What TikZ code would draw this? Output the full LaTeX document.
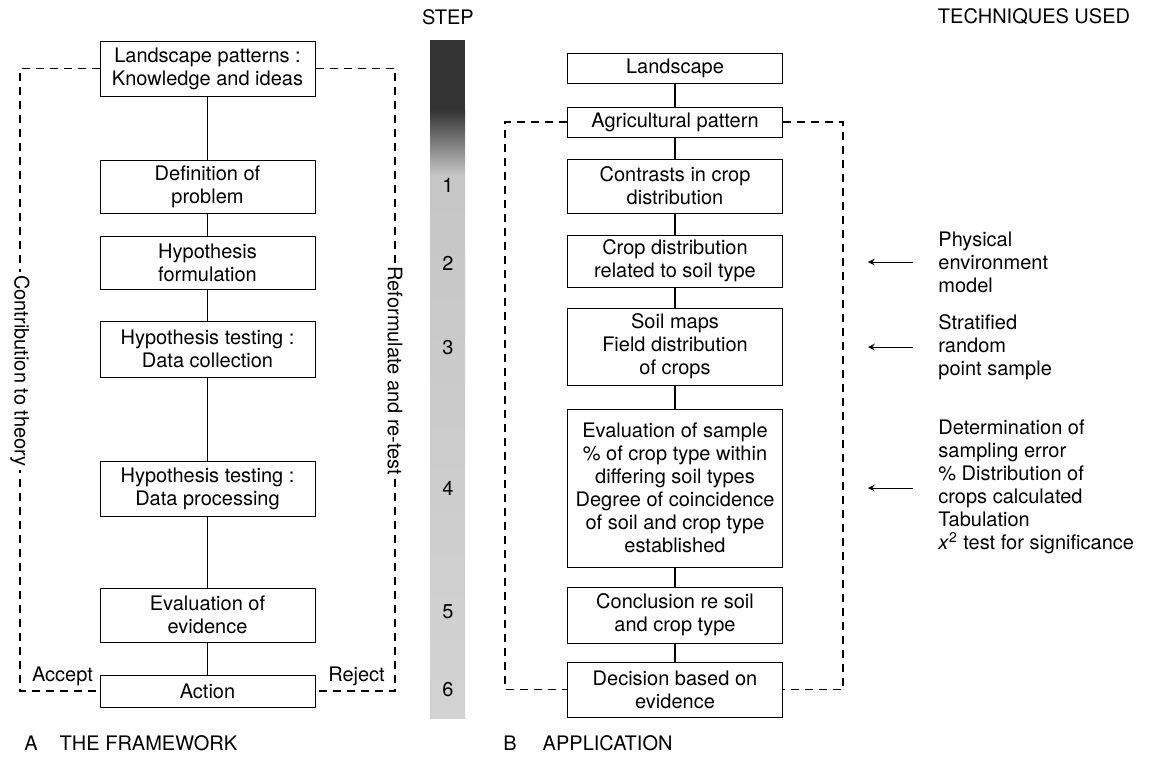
\documentclass[tikz,border=0pt]{standalone}
\usepackage{fontspec}
\setmainfont{TeX Gyre Heros}
\usetikzlibrary{arrows}

\tikzset{
  stage/.style={draw, line width=0.5pt, minimum width=107.5pt, align=center,
    inner sep=1pt, font=\fontsize{10pt}{11.5pt}\selectfont},
  link/.style={line width=0.7pt},
  loopline/.style={line width=0.6pt, dash pattern=on 4pt off 3pt},
  sidenote/.style={fill=white, inner sep=1.5pt, font=\fontsize{10pt}{11.5pt}\selectfont},
  technote/.style={anchor=west, align=left, inner sep=0pt, font=\fontsize{10pt}{11.5pt}\selectfont},
  pointer/.style={->, line width=0.5pt},
  steptag/.style={inner sep=1pt, font=\fontsize{10pt}{11.5pt}\selectfont},
}

\begin{document}
\begin{tikzpicture}[>=stealth, x=0.5pt, y=-0.5pt]
    \useasboundingbox (0,0) rectangle (1151,756);

    % Framework (Left)
    \node[stage, minimum height=27.5pt] (lpat) at (207.5,68.5) {Landscape patterns :\\Knowledge and ideas};
    \node[stage, minimum height=26.5pt] (defn) at (207.5,186.5) {Definition of\\problem};
    \node[stage, minimum height=26.5pt] (hform) at (207.5,262.5) {Hypothesis\\formulation};
    \node[stage, minimum height=28pt] (hcoll) at (207.5,349) {Hypothesis testing :\\Data collection};
    \node[stage, minimum height=27.5pt] (hproc) at (207.5,488.5) {Hypothesis testing :\\Data processing};
    \node[stage, minimum height=27pt] (evid) at (207.5,615) {Evaluation of\\evidence};
    \node[stage, minimum height=16pt] (action) at (207.5,691) {Action};
    \foreach \a/\b in {lpat/defn, defn/hform, hform/hcoll, hcoll/hproc, hproc/evid, evid/action}
        \draw[link] (\a) -- (\b);

    \coordinate (lt) at (20,68.5);
    \coordinate (lb) at (20,691);
    \coordinate (rt) at (395,68.5);
    \coordinate (rb) at (395,691);
    \draw[loopline] (lpat.west) -- (lt) -- (lb) -- (action.west);
    \draw[loopline] (lpat.east) -- (rt) -- (rb) -- (action.east);
    \node[sidenote, rotate=-90] (contrib) at (20,371) {Contribution to theory};
    \node[sidenote, rotate=-90] (reform) at (395,371) {Reformulate and re-test};
    \node[steptag] (accept) at (62.5,676) {Accept};
    \node[steptag] (reject) at (356.5,676) {Reject};
    \node[steptag, anchor=west] (capa) at (22,743) {A\hspace{1.1em}THE FRAMEWORK};

    % Step bar (Centre)
    \fill[black!80] (430,40) rectangle (465,110);
    \shade[top color=black!80, bottom color=gray!45] (430,110) rectangle (465,175);
    \shade[top color=gray!45, bottom color=gray!35] (430,175) rectangle (465,718);
    \node[steptag] (stephead) at (448,17) {STEP};
    \foreach \n/\y in {1/185, 2/263, 3/348, 4/488, 5/612, 6/690}
        \node[steptag] (s\n) at (448,\y) {\n};

    % Application (Right)
    \node[stage, minimum height=15pt] (land) at (675,68) {Landscape};
    \node[stage, minimum height=15pt] (agri) at (675,122) {Agricultural pattern};
    \node[stage, minimum height=27pt] (contr) at (675,186) {Contrasts in crop\\distribution};
    \node[stage, minimum height=26pt] (cdist) at (675,261) {Crop distribution\\related to soil type};
    \node[stage, minimum height=38.5pt] (soil) at (675,346.5) {Soil maps\\Field distribution\\of crops};
    \node[stage, minimum height=79pt] (evsam) at (675,488) {Evaluation of sample\\\% of crop type within\\differing soil types\\Degree of coincidence\\of soil and crop type\\established};
    \node[stage, minimum height=28pt] (concl) at (675,615) {Conclusion re soil\\and crop type};
    \node[stage, minimum height=27.5pt] (decis) at (675,689.5) {Decision based on\\evidence};
    \foreach \a/\b in {land/agri, agri/contr, contr/cdist, cdist/soil, soil/evsam, evsam/concl, concl/decis}
        \draw[link] (\a) -- (\b);

    \coordinate (blt) at (505,122);
    \coordinate (blb) at (505,689.5);
    \coordinate (brt) at (843,122);
    \coordinate (brb) at (843,689.5);
    \draw[loopline] (agri.west) -- (blt) -- (blb) -- (decis.west);
    \draw[loopline] (agri.east) -- (brt) -- (brb) -- (decis.east);
    \node[steptag, anchor=west] (capb) at (501,743) {B\hspace{1.3em}APPLICATION};

    % Techniques
    \node[steptag] (techhead) at (1034,17) {TECHNIQUES USED};
    \node[technote] (tphys) at (938,262) {Physical\\environment\\model};
    \node[technote] (tstrat) at (938,347) {Stratified\\random\\point sample};
    \node[technote] (tdet) at (938,487) {Determination of\\sampling error\\\% Distribution of\\crops calculated\\Tabulation\\\textit{x}\textsuperscript{2} test for significance};
    \coordinate (hphys) at (868,262);
    \coordinate (hstrat) at (868,347);
    \coordinate (hdet) at (868,488);
    \draw[pointer] ([xshift=-12.5pt]tphys.west) -- (hphys);
    \draw[pointer] ([xshift=-12.5pt]tstrat.west) -- (hstrat);
    \draw[pointer] ([xshift=-12.5pt]tdet.west |- hdet) -- (hdet);
\end{tikzpicture}
\end{document}
